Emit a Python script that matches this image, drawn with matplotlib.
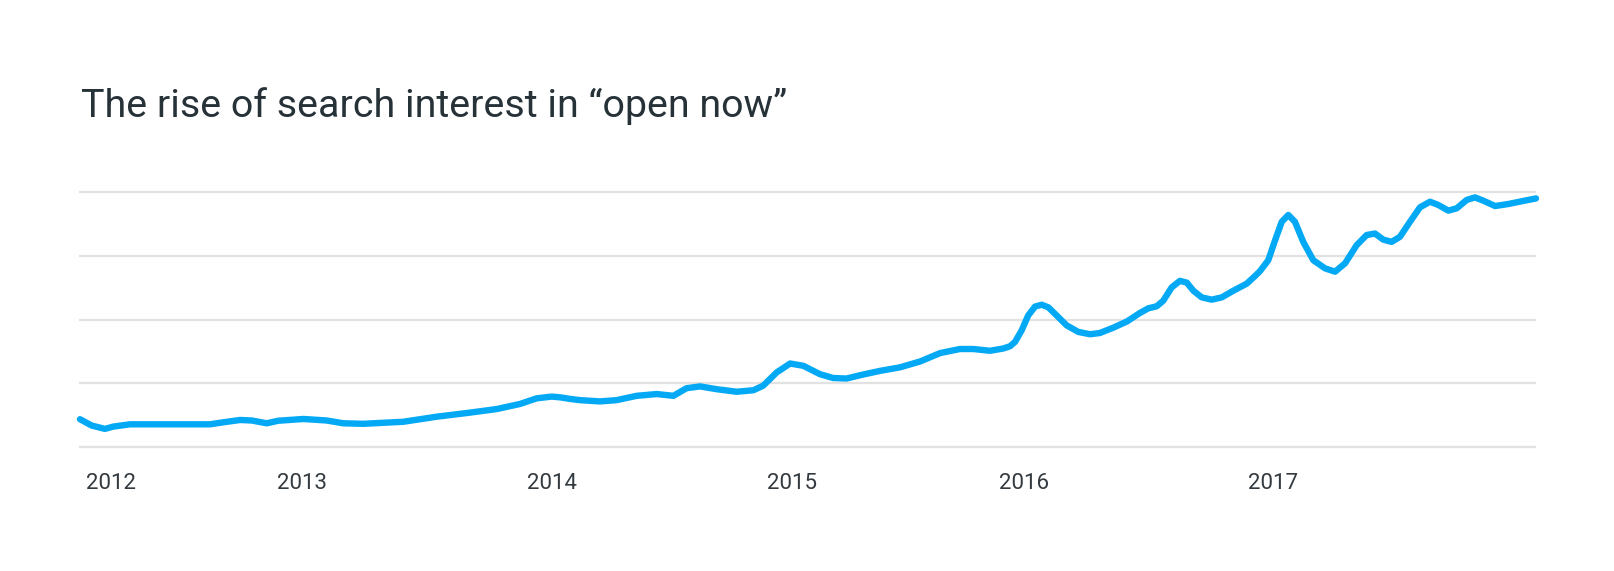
import matplotlib
matplotlib.use("Agg")
import matplotlib.pyplot as plt

# ---- data (fractional year, search interest index) ----
years = [2012.000, 2012.048, 2012.102, 2012.136, 2012.204, 2012.368, 2012.531, 2012.586,
         2012.654, 2012.702, 2012.763, 2012.810, 2012.913, 2013.008, 2013.076, 2013.158,
         2013.321, 2013.458, 2013.594, 2013.703, 2013.798, 2013.866, 2013.928, 2013.962,
         2014.002, 2014.043, 2014.125, 2014.193, 2014.275, 2014.357, 2014.425, 2014.479,
         2014.534, 2014.602, 2014.684, 2014.752, 2014.792, 2014.847, 2014.902, 2014.956,
         2015.024, 2015.078, 2015.133, 2015.188, 2015.269, 2015.351, 2015.433, 2015.515,
         2015.596, 2015.651, 2015.719, 2015.773, 2015.801, 2015.821, 2015.848, 2015.875,
         2015.903, 2015.930, 2015.957, 2015.991, 2016.032, 2016.080, 2016.128, 2016.168,
         2016.223, 2016.278, 2016.332, 2016.366, 2016.400, 2016.427, 2016.461, 2016.495,
         2016.523, 2016.550, 2016.584, 2016.625, 2016.666, 2016.713, 2016.768, 2016.802,
         2016.822, 2016.856, 2016.884, 2016.911, 2016.938, 2016.965, 2016.999, 2017.040,
         2017.088, 2017.129, 2017.170, 2017.217, 2017.258, 2017.292, 2017.326, 2017.360,
         2017.394, 2017.435, 2017.476, 2017.517, 2017.551, 2017.592, 2017.626, 2017.667,
         2017.701, 2017.735, 2017.783, 2017.837, 2017.898, 2017.950]
interest = [10.8, 8.3, 7.0, 7.9, 8.8, 8.8, 8.8, 9.6,
            10.5, 10.3, 9.2, 10.2, 10.9, 10.3, 9.2, 9.0,
            9.8, 11.8, 13.4, 14.8, 16.8, 19.0, 19.7, 19.4,
            18.8, 18.3, 17.8, 18.3, 20.0, 20.7, 20.0, 23.0,
            23.7, 22.6, 21.6, 22.2, 24.0, 29.2, 32.7, 31.8,
            28.5, 27.0, 26.8, 28.1, 29.8, 31.2, 33.5, 36.8,
            38.4, 38.4, 37.7, 38.6, 39.5, 41.2, 45.7, 51.6,
            55.1, 55.8, 54.8, 51.6, 47.7, 45.1, 44.2, 44.7,
            46.8, 49.2, 52.6, 54.4, 55.2, 57.4, 62.6, 65.2,
            64.5, 61.3, 58.7, 57.8, 58.7, 61.3, 64.1, 67.1,
            69.0, 73.3, 81.2, 88.4, 91.1, 88.4, 80.5, 73.3,
            70.1, 68.8, 72.1, 79.2, 83.2, 83.8, 81.4, 80.5,
            82.5, 88.4, 94.1, 96.3, 95.0, 92.8, 93.7, 97.0,
            98.0, 96.7, 94.6, 95.4, 96.6, 97.6]

tick_positions = [2012.125, 2012.907, 2013.929, 2014.910, 2015.858, 2016.874]
tick_labels = ["2012", "2013", "2014", "2015", "2016", "2017"]
grid_levels = [0, 25, 50, 75, 100]

title = "The rise of search interest in \u201copen now\u201d"

plt.rcParams['font.family'] = ['Roboto', 'DejaVu Sans']

W, H = 1615, 571
fig = plt.figure(figsize=(W / 100, H / 100), dpi=100)
fig.patch.set_facecolor("white")

left, right = 80 / W, 1535 / W
bottom, top = (H - 446.7) / H, (H - 192.3) / H
ax = fig.add_axes([left, bottom, right - left, top - bottom])

for g in grid_levels:
    ax.axhline(g, color="#e2e2e2", lw=1.6, zorder=1, clip_on=False)

ax.plot(years, interest, color="#03a9f4", lw=4.6, solid_capstyle="round",
        solid_joinstyle="round", zorder=3, clip_on=False)

ax.set_xlim(2012.0, 2017.946)
ax.set_ylim(0, 100)
ax.set_yticks([])
ax.set_xticks(tick_positions)
ax.set_xticklabels(tick_labels, fontsize=16, color="#333a40")
ax.tick_params(axis="x", length=0, pad=19)
for s in ax.spines.values():
    s.set_visible(False)
ax.set_facecolor("none")

fig.text(81 / W, 1 - 106 / H, title, fontsize=28.4, color="#263238",
         ha="left", va="center")

fig.savefig("out.png", dpi=100, facecolor="white")
